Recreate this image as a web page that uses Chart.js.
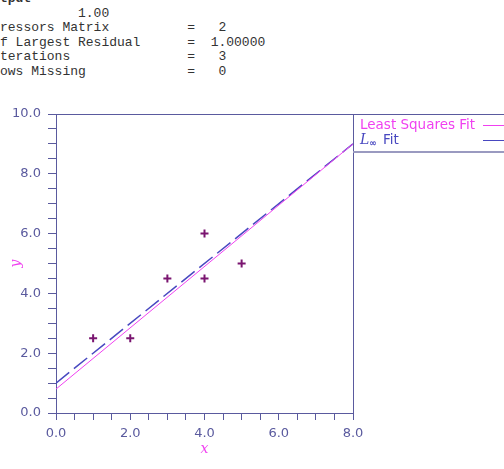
<!DOCTYPE html>
<html>
<head>
<meta charset="utf-8">
<script src="https://cdn.jsdelivr.net/npm/chart.js@4"></script>
<style>
  html, body { margin: 0; padding: 0; background: #fff; }
  #wrap { position: relative; width: 504px; height: 469px; overflow: hidden; }
  #out {
    position: absolute; left: 0; top: -8px; margin: 0;
    font: 13px/14.5px "Liberation Mono", monospace; color: #333;
    white-space: pre;
  }
  canvas { position: absolute; left: 0; top: 0; }
</style>
</head>
<body>
<div id="wrap">
<pre id="out"><b>tput</b>
          1.00
ressors Matrix          =   2
f Largest Residual      =  1.00000
terations               =   3
ows Missing             =   0</pre>
<canvas id="chart" width="504" height="469"></canvas>
</div>
<script>
// observed data
const xData = [1, 2, 3, 4, 4, 5];
const yData = [2.5, 2.5, 4.5, 4.5, 6.0, 5.0];

// fitted lines, end points
const lsX = [0, 8];
const lsY = [0.8, 9.0];
const linfX = [0, 8];
const linfY = [1.0, 9.0];

const xTicks = [0, 2, 4, 6, 8];
const yTicks = [0, 2, 4, 6, 8, 10];

const axisColor = "#5a5a9e";
const magenta = "#f040f0";
const navy = "#4848c0";

const pts = (xs, ys) => xs.map((x, i) => ({ x: x, y: ys[i] }));

// frame around plot area plus the legend box on the right
const framePlugin = {
  id: "frame",
  afterDraw(chart) {
    const { ctx, chartArea: a } = chart;
    ctx.save();
    ctx.strokeStyle = axisColor;
    ctx.lineWidth = 1;
    ctx.beginPath();
    ctx.moveTo(a.left, a.top + 0.5);
    ctx.lineTo(chart.width, a.top + 0.5);
    ctx.moveTo(a.right + 0.5, a.top);
    ctx.lineTo(a.right + 0.5, a.bottom);
    ctx.stroke();
    // legend bottom border
    ctx.strokeStyle = "#9a9ac0";
    ctx.lineWidth = 2;
    ctx.beginPath();
    ctx.moveTo(a.right, a.top + 38);
    ctx.lineTo(chart.width, a.top + 38);
    ctx.stroke();

    // legend entries
    const lx = a.right + 7;
    ctx.font = "13.5px 'DejaVu Sans'";
    ctx.textBaseline = "middle";
    ctx.fillStyle = magenta;
    ctx.fillText("Least Squares Fit", lx, a.top + 11);
    ctx.strokeStyle = magenta;
    ctx.lineWidth = 1;
    ctx.beginPath();
    ctx.moveTo(483, a.top + 11.5);
    ctx.lineTo(504, a.top + 11.5);
    ctx.stroke();

    ctx.fillStyle = navy;
    ctx.font = "italic 14px 'DejaVu Serif'";
    ctx.fillText("L", lx, a.top + 26);
    ctx.font = "bold 9px 'DejaVu Sans'";
    ctx.fillText("\u221e", lx + 9, a.top + 30);
    ctx.font = "13.5px 'DejaVu Sans'";
    ctx.fillText("Fit", lx + 23, a.top + 26);
    ctx.strokeStyle = navy;
    ctx.beginPath();
    ctx.moveTo(483, a.top + 26.5);
    ctx.lineTo(504, a.top + 26.5);
    ctx.stroke();
    ctx.restore();
  }
};

const tickFont = { family: "DejaVu Sans", size: 13 };

new Chart(document.getElementById("chart"), {
  type: "scatter",
  data: {
    datasets: [
      {
        label: "Least Squares Fit",
        data: pts(lsX, lsY),
        showLine: true,
        borderColor: magenta,
        borderWidth: 1,
        pointRadius: 0,
      },
      {
        label: "L\u221e Fit",
        data: pts(linfX, linfY),
        showLine: true,
        borderColor: navy,
        borderWidth: 1.5,
        borderDash: [17, 6],
        pointRadius: 0,
      },
      {
        label: "data",
        data: pts(xData, yData),
        pointStyle: "cross",
        pointRadius: 4,
        borderWidth: 2,
        borderColor: "#7a1570",
        backgroundColor: "#7a1570",
      },
    ],
  },
  options: {
    responsive: false,
    animation: false,
    layout: { padding: { top: 114, right: 151, left: 0, bottom: 0 } },
    plugins: { legend: { display: false }, tooltip: { enabled: false } },
    scales: {
      x: {
        type: "linear",
        min: 0,
        max: 8,
        afterBuildTicks: (s) => {
          s.ticks = [];
          for (let v = 0; v <= 8; v += 0.5) s.ticks.push({ value: v });
        },
        afterFit: (s) => { s.height = 56; },
        ticks: {
          autoSkip: false,
          maxRotation: 0,
          color: axisColor,
          font: tickFont,
          padding: 6,
          callback: (v) => (xTicks.includes(v) ? v.toFixed(1) : ""),
        },
        grid: { drawOnChartArea: false, drawTicks: true, tickLength: 7, color: axisColor },
        border: { display: true, color: axisColor },
        title: {
          display: true,
          text: "x",
          color: magenta,
          font: { family: "DejaVu Serif", style: "italic", size: 14 },
          padding: { top: 0, bottom: 11 },
        },
      },
      y: {
        type: "linear",
        min: 0,
        max: 10,
        afterBuildTicks: (s) => {
          s.ticks = [];
          for (let v = 0; v <= 10; v += 0.5) s.ticks.push({ value: v });
        },
        afterFit: (s) => { s.width = 56; },
        ticks: {
          autoSkip: false,
          color: axisColor,
          font: tickFont,
          padding: 7,
          callback: (v) => (yTicks.includes(v) ? v.toFixed(1) : ""),
        },
        grid: { drawOnChartArea: false, drawTicks: true, tickLength: 8, color: axisColor },
        border: { display: true, color: axisColor },
        title: {
          display: true,
          text: "y",
          color: magenta,
          font: { family: "DejaVu Serif", style: "italic", size: 14 },
          padding: { top: 8 },
        },
      },
    },
  },
  plugins: [framePlugin],
});
</script>
</body>
</html>
